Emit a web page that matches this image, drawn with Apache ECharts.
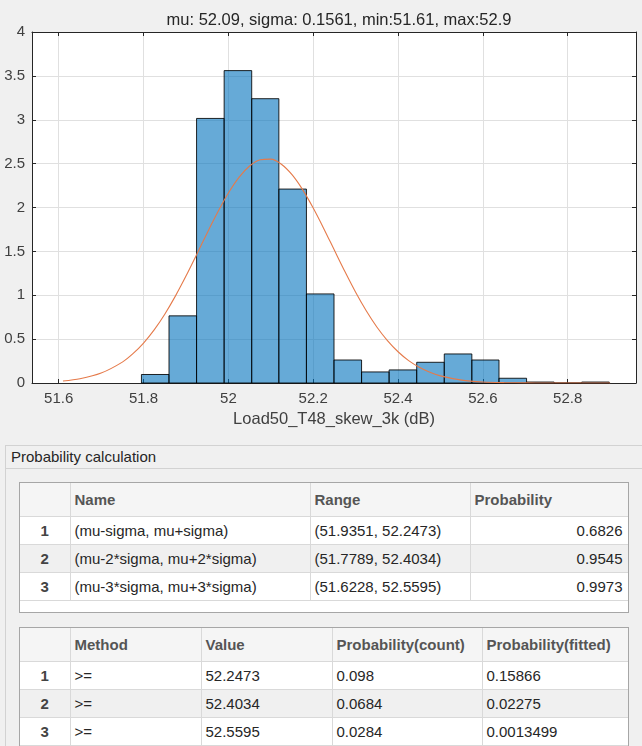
<!DOCTYPE html>
<html>
<head>
<meta charset="utf-8">
<script src="https://cdn.jsdelivr.net/npm/echarts@6/dist/echarts.min.js"></script>
<style>
  html, body { margin: 0; padding: 0; }
  body { width: 642px; height: 746px; background: #f0f0f0; overflow: hidden; position: relative;
         font-family: "Liberation Sans", Arial, sans-serif; }
  #chart { position: absolute; left: 0; top: 0; width: 642px; height: 440px; }
  #panel { position: absolute; left: 5px; top: 445px; width: 640px; height: 320px;
           border: 1px solid #d2d2d2; box-sizing: border-box; }
  #panel .ttl { height: 22px; line-height: 22px; border-bottom: 1px solid #d2d2d2; padding-left: 5px;
                font-size: 15px; color: #262626; }
  .tbl { position: absolute; background: #fff; border: 1px solid #a6a6a6; box-sizing: border-box; overflow: hidden; }
  .tbl table { border-collapse: collapse; table-layout: fixed; font-size: 15px; }
  .tbl td, .tbl th { border-right: 1px solid #d9d9d9; border-bottom: 1px solid #d9d9d9; padding: 0 4px;
                     white-space: nowrap; overflow: hidden; color: #262626; font-weight: normal; }
  .tbl th { background: #f5f5f5; font-weight: bold; color: #555; text-align: left; }
  .tbl td.rh { text-align: center; font-weight: bold; color: #444; }
  .tbl tr.alt td { background: #f0f0f0; }
  .tbl td.num { text-align: right; padding-right: 5px; }
</style>
</head>
<body>
<div id="chart"></div>
<div id="panel"><div class="ttl">Probability calculation</div></div>
<div class="tbl" id="t1" style="left:19px; top:482px; width:610px; height:131px;"></div>
<div class="tbl" id="t2" style="left:19px; top:627px; width:610px; height:140px;"></div>
<script>
// histogram (pdf normalised)
const binEdges = [51.795, 51.860, 51.925, 51.990, 52.055, 52.119, 52.184, 52.249, 52.314,
                  52.379, 52.444, 52.509, 52.574, 52.638, 52.703, 52.768, 52.833, 52.898];
const binHeights = [0.097, 0.765, 3.015, 3.56, 3.24, 2.21, 1.015, 0.262, 0.126,
                    0.149, 0.236, 0.331, 0.262, 0.054, 0.011, 0, 0.011];

// fitted normal curve
const curveX = [51.61, 51.65, 51.70, 51.75, 51.775, 51.80, 51.825, 51.85, 51.875, 51.90, 51.925,
                51.95, 51.975, 52.00, 52.025, 52.05, 52.075, 52.10, 52.125, 52.15, 52.175, 52.20,
                52.225, 52.25, 52.275, 52.30, 52.325, 52.35, 52.375, 52.40, 52.425, 52.45, 52.475,
                52.50, 52.55, 52.60, 52.65, 52.70, 52.75, 52.80, 52.85, 52.90];
const curveY = [0.022, 0.048, 0.113, 0.238, 0.334, 0.455, 0.605, 0.784, 0.99, 1.218, 1.462,
                1.71, 1.948, 2.165, 2.344, 2.473, 2.544, 2.551, 2.493, 2.374, 2.204, 1.994,
                1.759, 1.512, 1.267, 1.034, 0.823, 0.638, 0.483, 0.356, 0.255, 0.179, 0.122,
                0.081, 0.033, 0.012, 0.004, 0.001, 0, 0, 0, 0];

const xTicks = [51.6, 51.8, 52, 52.2, 52.4, 52.6, 52.8];
const xMin = 51.537, xMax = 52.961;
const titleText = 'mu: 52.09, sigma: 0.1561, min:51.61, max:52.9';
const xName = 'Load50_T48_skew_3k (dB)';

// tables
const t1Head = ['', 'Name', 'Range', 'Probability'];
const t1Names = ['(mu-sigma, mu+sigma)', '(mu-2*sigma, mu+2*sigma)', '(mu-3*sigma, mu+3*sigma)'];
const t1Ranges = ['(51.9351, 52.2473)', '(51.7789, 52.4034)', '(51.6228, 52.5595)'];
const t1Prob = ['0.6826', '0.9545', '0.9973'];

const t2Head = ['', 'Method', 'Value', 'Probability(count)', 'Probability(fitted)'];
const t2Method = ['>=', '>=', '>='];
const t2Value = ['52.2473', '52.4034', '52.5595'];
const t2Count = ['0.098', '0.0684', '0.0284'];
const t2Fitted = ['0.15866', '0.02275', '0.0013499'];

const font = '"Liberation Sans", Arial, sans-serif';
const axisCol = '#262626';
const gridCol = '#e0e0e0';

const bins = binHeights.map((h, i) => [binEdges[i], binEdges[i + 1], h]);
const curve = curveX.map((x, i) => [x, curveY[i]]);

const chart = echarts.init(document.getElementById('chart'));
chart.setOption({
  animation: false,
  title: {
    text: titleText, left: 334, top: 7, textAlign: 'center',
    textStyle: { fontSize: 16.5, fontWeight: 'normal', color: '#262626', fontFamily: font }
  },
  grid: {
    left: 32, top: 32, width: 604, height: 351, show: true, backgroundColor: '#fff', borderWidth: 0,
    containLabel: false, outerBoundsMode: 'none'
  },
  xAxis: [
    {
      type: 'value', min: xMin, max: xMax, position: 'bottom',
      name: xName, nameLocation: 'middle', nameGap: 25,
      nameTextStyle: { fontSize: 16.5, color: '#404040', fontFamily: font },
      axisLine: { onZero: false, lineStyle: { color: axisCol, width: 1 } },
      axisTick: { inside: true, length: 4, customValues: xTicks, lineStyle: { color: axisCol } },
      axisLabel: { customValues: xTicks, margin: 8, fontSize: 15, color: '#404040', fontFamily: font },
      splitLine: { show: true, lineStyle: { color: gridCol } }
    },
    {
      type: 'value', min: xMin, max: xMax, position: 'top',
      axisLine: { onZero: false, lineStyle: { color: axisCol, width: 1 } },
      axisTick: { inside: true, length: 4, customValues: xTicks, lineStyle: { color: axisCol } },
      axisLabel: { show: false },
      splitLine: { show: false }
    }
  ],
  yAxis: [
    {
      type: 'value', min: 0, max: 4, interval: 0.5,
      axisLine: { show: true, onZero: false, lineStyle: { color: axisCol, width: 1 } },
      axisTick: { show: true, inside: true, length: 4, lineStyle: { color: axisCol } },
      axisLabel: { margin: 7, fontSize: 15, color: '#404040', fontFamily: font },
      splitLine: { show: true, lineStyle: { color: gridCol } }
    },
    {
      type: 'value', min: 0, max: 4, interval: 0.5, position: 'right',
      axisLine: { show: true, onZero: false, lineStyle: { color: axisCol, width: 1 } },
      axisTick: { show: true, inside: true, length: 4, lineStyle: { color: axisCol } },
      axisLabel: { show: false },
      splitLine: { show: false }
    }
  ],
  series: [
    {
      type: 'custom',
      data: bins,
      encode: { x: [0, 1], y: 2 },
      renderItem: (params, api) => {
        const p0 = api.coord([api.value(0), api.value(2)]);
        const p1 = api.coord([api.value(1), 0]);
        return {
          type: 'rect',
          shape: { x: p0[0], y: p0[1], width: p1[0] - p0[0], height: p1[1] - p0[1] },
          style: { fill: 'rgba(0,114,189,0.6)', stroke: 'rgba(0,0,0,0.85)', lineWidth: 1 }
        };
      }
    },
    {
      type: 'line',
      data: curve,
      smooth: 0.3,
      showSymbol: false,
      silent: true,
      lineStyle: { color: '#e57a4a', width: 1.1 }
    }
  ]
});

function buildTable(el, head, cols, widths, headH, rowH, numCols) {
  let h = '<table style="width:' + widths.reduce((a, b) => a + b, 0) + 'px"><colgroup>';
  widths.forEach(w => { h += '<col style="width:' + w + 'px">'; });
  h += '</colgroup><tr style="height:' + headH + 'px">';
  head.forEach(t => { h += '<th>' + t + '</th>'; });
  h += '</tr>';
  for (let r = 0; r < cols[0].length; r++) {
    h += '<tr style="height:' + rowH + 'px"' + (r % 2 ? ' class="alt"' : '') + '><td class="rh">' + (r + 1) + '</td>';
    cols.forEach((c, j) => {
      const txt = String(c[r]).replace(/>/g, '&gt;');
      h += '<td' + (numCols.includes(j) ? ' class="num"' : '') + '>' + txt + '</td>';
    });
    h += '</tr>';
  }
  h += '</table>';
  document.getElementById(el).innerHTML = h;
}

buildTable('t1', t1Head, [t1Names, t1Ranges, t1Prob], [50, 240, 160, 158], 33, 28, [2]);
buildTable('t2', t2Head, [t2Method, t2Value, t2Count, t2Fitted], [50, 131, 131, 150, 146], 33, 28, []);
</script>
</body>
</html>
